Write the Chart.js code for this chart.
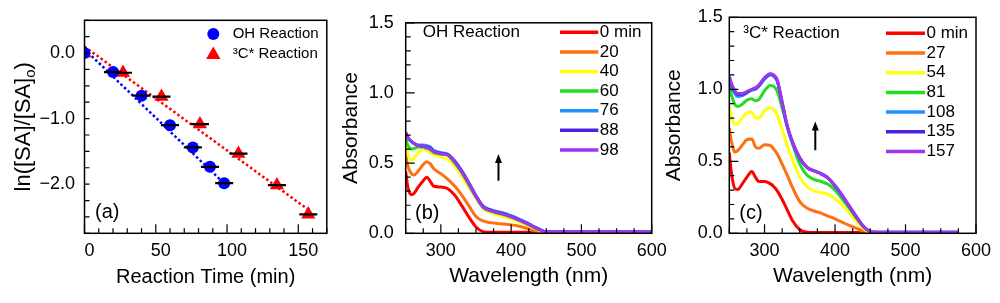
<!DOCTYPE html>
<html lang="en">
<head>
<meta charset="UTF-8">
<title>SA decay kinetics and absorbance spectra</title>
<script src="https://cdn.jsdelivr.net/npm/chart.js@4.4.2/dist/chart.umd.min.js"></script>
<style>
  html, body { margin: 0; padding: 0; background: #fff; }
  body { width: 1000px; height: 303px; position: relative; overflow: hidden; }
  .panel { position: absolute; top: 0; }
  canvas { display: block; }
</style>
</head>
<body>
<div class="panel" style="left:0px"><canvas id="chartA" width="335" height="303"></canvas></div>
<div class="panel" style="left:335px"><canvas id="chartB" width="345" height="303"></canvas></div>
<div class="panel" style="left:655px"><canvas id="chartC" width="345" height="303"></canvas></div>
<script>
// ---- panel (a): ln([SA]/[SA]o) vs reaction time ----
const ohTimes = [0, 20, 40, 60, 76, 88, 98];
const ohLnRatio = [0.00, -0.29, -0.65, -1.10, -1.44, -1.735, -1.985];
const tcTimes = [0, 27, 54, 81, 108, 135, 157];
const tcLnRatio = [0.00, -0.30, -0.665, -1.085, -1.535, -2.015, -2.46];
const ohFitTimes = [0, 98];
const ohFitValues = [0.06, -1.99];
const tcFitTimes = [0, 157];
const tcFitValues = [0.10, -2.39];

const timeTickLabels = [0, 50, 100, 150];
const lnTickLabels = [0, -1, -2];

// ---- panels (b) and (c): absorbance spectra ----
const wlTickLabels = [300, 400, 500, 600];
const absTickLabels = [0, 0.5, 1.0, 1.5];

const ohLabels = ['0 min', '20', '40', '60', '76', '88', '98'];
const tcLabels = ['0 min', '27', '54', '81', '108', '135', '157'];
const seriesColors = ['#ff0000', '#ff7010', '#ffff10', '#22dd22', '#1e90ff', '#4b1fe6', '#a035f0'];

const wlB = [250, 253, 258, 262, 268, 275, 280, 285, 290, 300, 310, 320, 330, 340, 350, 360, 370, 380, 390, 400, 410, 420, 430, 440, 450, 460, 500, 550, 600];
const ohSpec0  = [0.44, 0.33, 0.275, 0.285, 0.33, 0.375, 0.40, 0.37, 0.335, 0.33, 0.318, 0.27, 0.195, 0.115, 0.045, 0.012, 0.008, 0.008, 0.008, 0.008, 0.008, 0.008, 0.008, 0.008, 0.008, 0.008, 0.008, 0.008, 0.008];
const ohSpec20 = [0.56, 0.48, 0.425, 0.415, 0.445, 0.49, 0.51, 0.495, 0.46, 0.425, 0.385, 0.335, 0.27, 0.195, 0.12, 0.088, 0.076, 0.07, 0.066, 0.06, 0.052, 0.04, 0.025, 0.012, 0.008, 0.008, 0.008, 0.008, 0.008];
const ohSpec40 = [0.65, 0.57, 0.52, 0.535, 0.575, 0.60, 0.59, 0.575, 0.56, 0.545, 0.525, 0.475, 0.405, 0.325, 0.25, 0.175, 0.148, 0.132, 0.118, 0.102, 0.084, 0.063, 0.042, 0.022, 0.008, 0.008, 0.008, 0.008, 0.008];
const ohSpec60 = [0.67, 0.63, 0.60, 0.605, 0.615, 0.615, 0.605, 0.595, 0.575, 0.565, 0.555, 0.50, 0.43, 0.345, 0.26, 0.185, 0.16, 0.145, 0.132, 0.115, 0.095, 0.073, 0.049, 0.026, 0.009, 0.009, 0.009, 0.009, 0.009];
const ohSpec76 = [0.715, 0.68, 0.655, 0.64, 0.63, 0.63, 0.625, 0.615, 0.59, 0.575, 0.565, 0.515, 0.445, 0.36, 0.27, 0.195, 0.17, 0.155, 0.143, 0.125, 0.105, 0.082, 0.055, 0.03, 0.01, 0.01, 0.01, 0.01, 0.01];
const ohSpec88 = [0.72, 0.685, 0.655, 0.64, 0.625, 0.62, 0.615, 0.605, 0.585, 0.57, 0.56, 0.51, 0.44, 0.355, 0.265, 0.19, 0.165, 0.15, 0.138, 0.12, 0.10, 0.078, 0.052, 0.028, 0.01, 0.01, 0.01, 0.01, 0.01];
const ohSpec98 = [0.72, 0.685, 0.655, 0.64, 0.625, 0.62, 0.612, 0.60, 0.582, 0.567, 0.557, 0.507, 0.437, 0.352, 0.262, 0.188, 0.163, 0.148, 0.136, 0.118, 0.098, 0.076, 0.051, 0.027, 0.01, 0.01, 0.01, 0.01, 0.01];

const wlC = [250, 253, 258, 262, 268, 275, 282, 287, 292, 300, 308, 313, 318, 325, 332, 340, 350, 360, 370, 380, 390, 400, 410, 420, 430, 440, 450, 460, 480, 520, 575];
const tcSpec0   = [0.56, 0.42, 0.31, 0.305, 0.34, 0.39, 0.43, 0.39, 0.36, 0.36, 0.345, 0.325, 0.295, 0.235, 0.165, 0.085, 0.025, 0.008, 0.006, 0.006, 0.006, 0.006, 0.006, 0.006, 0.006, 0.006, 0.006, 0.006, 0.006, 0.006, 0.006];
const tcSpec27  = [0.73, 0.64, 0.565, 0.575, 0.61, 0.65, 0.655, 0.60, 0.59, 0.615, 0.61, 0.585, 0.55, 0.48, 0.405, 0.315, 0.22, 0.175, 0.155, 0.14, 0.12, 0.10, 0.077, 0.055, 0.036, 0.015, 0.007, 0.006, 0.006, 0.006, 0.006];
const tcSpec54  = [0.89, 0.81, 0.755, 0.76, 0.80, 0.835, 0.84, 0.80, 0.80, 0.85, 0.872, 0.86, 0.82, 0.72, 0.61, 0.505, 0.39, 0.325, 0.295, 0.283, 0.272, 0.24, 0.195, 0.145, 0.085, 0.035, 0.008, 0.006, 0.006, 0.006, 0.006];
const tcSpec81  = [1.03, 0.96, 0.895, 0.88, 0.895, 0.925, 0.935, 0.92, 0.93, 0.99, 1.027, 1.02, 0.985, 0.87, 0.745, 0.615, 0.48, 0.405, 0.375, 0.36, 0.34, 0.30, 0.24, 0.175, 0.108, 0.05, 0.012, 0.006, 0.006, 0.006, 0.006];
const tcSpec108 = [1.07, 1.02, 0.97, 0.95, 0.955, 0.975, 0.995, 1.0, 1.02, 1.07, 1.10, 1.09, 1.055, 0.905, 0.745, 0.625, 0.52, 0.46, 0.435, 0.415, 0.385, 0.33, 0.265, 0.19, 0.118, 0.05, 0.012, 0.007, 0.007, 0.007, 0.007];
const tcSpec135 = [1.085, 1.035, 0.985, 0.965, 0.965, 0.98, 0.998, 1.008, 1.028, 1.078, 1.106, 1.098, 1.062, 0.908, 0.748, 0.628, 0.523, 0.458, 0.433, 0.413, 0.383, 0.328, 0.263, 0.188, 0.116, 0.049, 0.012, 0.007, 0.007, 0.007, 0.007];
const tcSpec157 = [1.09, 1.04, 0.99, 0.97, 0.97, 0.985, 1.0, 1.01, 1.03, 1.08, 1.108, 1.10, 1.065, 0.91, 0.75, 0.63, 0.525, 0.46, 0.435, 0.415, 0.385, 0.33, 0.265, 0.19, 0.118, 0.05, 0.012, 0.008, 0.008, 0.008, 0.008];

// arrows (wavelength, absorbance from -> to)
const arrowB = { wl: 382, from: 0.375, to: 0.565 };
const arrowC = { wl: 372, from: 0.577, to: 0.776 };

// ---- helpers ----
const FONT = "'Liberation Sans', Arial, Helvetica, sans-serif";
Chart.defaults.font.family = FONT;
Chart.defaults.color = '#000';

function near(list, v) { return list.some(m => Math.abs(m - v) < 1e-6); }
function fmt1(v) { return (v < -1e-9 ? '\u2212' : '') + Math.abs(v).toFixed(1); }
function pts(xs, ys) { return xs.map((x, i) => ({ x: x, y: ys[i] })); }

// frame around the plot + ticks drawn inward (left and bottom only)
const frameTicks = {
    id: 'frameTicks',
    afterDatasetsDraw(chart, args, opts) {
        const { ctx, chartArea: a, scales: { x, y } } = chart;
        ctx.save();
        ctx.strokeStyle = '#000';
        ctx.lineWidth = 1.2;
        ctx.beginPath();
        x.ticks.forEach(t => {
            const px = x.getPixelForValue(t.value);
            const len = near(opts.xMajor, t.value) ? 9 : 5;
            ctx.moveTo(px, a.bottom);
            ctx.lineTo(px, a.bottom - len);
        });
        y.ticks.forEach(t => {
            const py = y.getPixelForValue(t.value);
            const len = near(opts.yMajor, t.value) ? 9 : 5;
            ctx.moveTo(a.left, py);
            ctx.lineTo(a.left + len, py);
        });
        ctx.stroke();
        ctx.lineWidth = 1.5;
        ctx.strokeRect(a.left, a.top, a.right - a.left, a.bottom - a.top);
        ctx.restore();
    }
};

// free text inside the plot
const notes = {
    id: 'notes',
    afterDraw(chart, args, opts) {
        const ctx = chart.ctx;
        ctx.save();
        ctx.fillStyle = '#000';
        ctx.textBaseline = 'middle';
        ctx.textAlign = 'left';
        (opts.items || []).forEach(it => {
            ctx.font = it.size + 'px ' + FONT;
            ctx.fillText(it.text, it.x, it.y);
        });
        if (opts.arrow) {
            const xs = chart.scales.x, ys = chart.scales.y;
            const px = xs.getPixelForValue(opts.arrow.wl);
            const p0 = ys.getPixelForValue(opts.arrow.from);
            const p1 = ys.getPixelForValue(opts.arrow.to);
            ctx.strokeStyle = '#000';
            ctx.lineWidth = 2;
            ctx.beginPath();
            ctx.moveTo(px, p0);
            ctx.lineTo(px, p1 + 6);
            ctx.stroke();
            ctx.beginPath();
            ctx.moveTo(px, p1);
            ctx.lineTo(px - 3.5, p1 + 9);
            ctx.lineTo(px + 3.5, p1 + 9);
            ctx.closePath();
            ctx.fill();
        }
        ctx.restore();
    }
};

// line-sample legend for the spectra
const specLegend = {
    id: 'specLegend',
    afterDraw(chart, args, opts) {
        const ctx = chart.ctx;
        ctx.save();
        ctx.font = '17px ' + FONT;
        ctx.textBaseline = 'middle';
        ctx.textAlign = 'left';
        chart.data.datasets.forEach((ds, i) => {
            const yy = opts.y0 + i * opts.dy;
            ctx.strokeStyle = ds.borderColor;
            ctx.lineWidth = 3.5;
            ctx.beginPath();
            ctx.moveTo(opts.x0, yy);
            ctx.lineTo(opts.x1, yy);
            ctx.stroke();
            ctx.fillStyle = '#000';
            ctx.fillText(ds.label, opts.x1 + 1.5, yy);
        });
        ctx.restore();
    }
};

// panel (a) extras: error caps, marker legend, y title with subscript
const kinExtras = {
    id: 'kinExtras',
    afterDatasetsDraw(chart) {
        const ctx = chart.ctx;
        ctx.save();
        ctx.strokeStyle = '#000';
        ctx.lineWidth = 2.2;
        ctx.beginPath();
        [0, 1].forEach(di => {
            chart.getDatasetMeta(di).data.forEach((el, j) => {
                if (j === 0) return;
                ctx.moveTo(el.x - 9, el.y);
                ctx.lineTo(el.x + 9, el.y);
            });
        });
        ctx.stroke();
        ctx.restore();
    },
    afterDraw(chart) {
        const { ctx, chartArea: a } = chart;
        ctx.save();
        // legend
        ctx.fillStyle = '#0000ff';
        ctx.beginPath();
        ctx.arc(213.3, 34, 6, 0, Math.PI * 2);
        ctx.fill();
        ctx.fillStyle = '#ff0000';
        ctx.beginPath();
        ctx.moveTo(213.3, 46.5);
        ctx.lineTo(220.5, 59);
        ctx.lineTo(206.1, 59);
        ctx.closePath();
        ctx.fill();
        ctx.fillStyle = '#000';
        ctx.font = '15px ' + FONT;
        ctx.textBaseline = 'middle';
        ctx.fillText('OH Reaction', 232.7, 34);
        ctx.fillText('\u00B3C* Reaction', 232.7, 53.5);
        // rotated y title: ln([SA]/[SA]o)
        const main = 'ln([SA]/[SA]', sub = 'o', close = ')';
        ctx.font = '22px ' + FONT;
        const w1 = ctx.measureText(main).width, w3 = ctx.measureText(close).width;
        ctx.font = '15px ' + FONT;
        const w2 = ctx.measureText(sub).width;
        const total = w1 + w2 + w3;
        ctx.translate(22.5, (a.top + a.bottom) / 2);
        ctx.rotate(-Math.PI / 2);
        ctx.textBaseline = 'alphabetic';
        const x0 = -total / 2, base = 7.7;
        ctx.font = '22px ' + FONT;
        ctx.fillText(main, x0, base);
        ctx.font = '15px ' + FONT;
        ctx.fillText(sub, x0 + w1, base + 5);
        ctx.font = '22px ' + FONT;
        ctx.fillText(close, x0 + w1 + w2, base);
        ctx.restore();
    }
};

// ---- chart (a) ----
new Chart(document.getElementById('chartA'), {
    type: 'scatter',
    data: {
        datasets: [
            { label: 'OH Reaction', data: pts(ohTimes, ohLnRatio), pointStyle: 'circle', pointRadius: 6,
              backgroundColor: '#0000ff', borderWidth: 0, order: 0, clip: 0 },
            { label: '\u00B3C* Reaction', data: pts(tcTimes, tcLnRatio), pointStyle: 'triangle', pointRadius: 8.2,
              backgroundColor: '#ff0000', borderWidth: 0, order: 1, clip: 0 },
            { label: 'OH fit', data: pts(ohFitTimes, ohFitValues), showLine: true, pointRadius: 0,
              borderColor: '#0000ff', borderWidth: 2.5, borderDash: [2.5, 2.5], order: 2 },
            { label: '3C fit', data: pts(tcFitTimes, tcFitValues), showLine: true, pointRadius: 0,
              borderColor: '#ff0000', borderWidth: 2.5, borderDash: [2.5, 2.5], order: 3 }
        ]
    },
    options: {
        responsive: false,
        animation: false,
        devicePixelRatio: 1,
        layout: { padding: { left: 0, top: 17, right: 5, bottom: 0 } },
        scales: {
            x: {
                type: 'linear', min: 0, max: 170,
                grid: { display: false, drawTicks: false }, border: { display: false },
                ticks: { stepSize: 10, autoSkip: false, maxRotation: 0, padding: 7, labelOffset: 5,
                         font: { size: 18 }, callback: v => near(timeTickLabels, v) ? String(v) : '' },
                title: { display: true, text: 'Reaction Time (min)', font: { size: 20 }, padding: { top: 0, bottom: 14 } },
                afterFit: s => { s.height = 69.7; }
            },
            y: {
                type: 'linear', min: -2.75, max: 0.5,
                grid: { display: false, drawTicks: false }, border: { display: false },
                ticks: { stepSize: 0.25, autoSkip: false, padding: 9.5, font: { size: 18 },
                         callback: v => near(lnTickLabels, v) ? fmt1(v) : '' },
                afterFit: s => { s.width = 84.5; }
            }
        },
        plugins: {
            legend: { display: false },
            tooltip: { enabled: false },
            frameTicks: { xMajor: timeTickLabels, yMajor: [] },
            notes: { items: [{ text: '(a)', x: 95, y: 212, size: 20 }] }
        }
    },
    plugins: [frameTicks, kinExtras, notes]
});

// ---- spectra charts ----
function specChart(id, wl, series, labels, opts) {
    return new Chart(document.getElementById(id), {
        type: 'line',
        data: {
            datasets: series.map((vals, i) => ({
                label: labels[i],
                data: pts(wl, vals),
                borderColor: seriesColors[i],
                borderWidth: 3,
                pointRadius: 0,
                fill: false,
                cubicInterpolationMode: 'monotone',
                order: series.length - i
            }))
        },
        options: {
            responsive: false,
            animation: false,
            devicePixelRatio: 1,
            layout: { padding: { left: 0, top: 16.7, right: opts.padRight, bottom: 0 } },
            scales: {
                x: {
                    type: 'linear', min: 250, max: 600,
                    grid: { display: false, drawTicks: false }, border: { display: false },
                    ticks: { stepSize: 25, autoSkip: false, maxRotation: 0, padding: 7, font: { size: 18 },
                             callback: v => near(wlTickLabels, v) ? String(v) : '' },
                    title: { display: true, text: 'Wavelength (nm)', font: { size: 21 }, padding: { top: 0, bottom: 14 } },
                    afterFit: s => { s.height = 69.7; }
                },
                y: {
                    type: 'linear', min: 0, max: 1.5,
                    grid: { display: false, drawTicks: false }, border: { display: false },
                    ticks: { stepSize: 0.1, autoSkip: false, padding: opts.yPad, font: { size: 18 },
                             callback: v => near(absTickLabels, v) ? fmt1(v) : '' },
                    title: { display: true, text: 'Absorbance', font: { size: 21 }, padding: { top: opts.titlePad, bottom: 0 } },
                    afterFit: s => { s.width = opts.yWidth; }
                }
            },
            plugins: {
                legend: { display: false },
                tooltip: { enabled: false },
                frameTicks: { xMajor: wlTickLabels, yMajor: absTickLabels },
                specLegend: opts.legend,
                notes: { items: opts.notes, arrow: opts.arrow }
            }
        },
        plugins: [frameTicks, specLegend, notes]
    });
}

specChart('chartB', wlB, [ohSpec0, ohSpec20, ohSpec40, ohSpec60, ohSpec76, ohSpec88, ohSpec98], ohLabels, {
    padRight: 28.3, yWidth: 70.7, yPad: 12, titlePad: 3.4,
    legend: { x0: 225, x1: 263.3, y0: 32.3, dy: 19.6 },
    notes: [{ text: 'OH Reaction', x: 87.7, y: 32.3, size: 17 }, { text: '(b)', x: 80, y: 213, size: 20 }],
    arrow: arrowB
});

specChart('chartC', wlC, [tcSpec0, tcSpec27, tcSpec54, tcSpec81, tcSpec108, tcSpec135, tcSpec157], tcLabels, {
    padRight: 24, yWidth: 74.3, yPad: 6.5, titlePad: 6.8,
    legend: { x0: 231, x1: 270, y0: 33.3, dy: 19.7 },
    notes: [{ text: '\u00B3C* Reaction', x: 88.3, y: 33.3, size: 17 }, { text: '(c)', x: 84.3, y: 213, size: 20 }],
    arrow: arrowC
});
</script>
</body>
</html>
